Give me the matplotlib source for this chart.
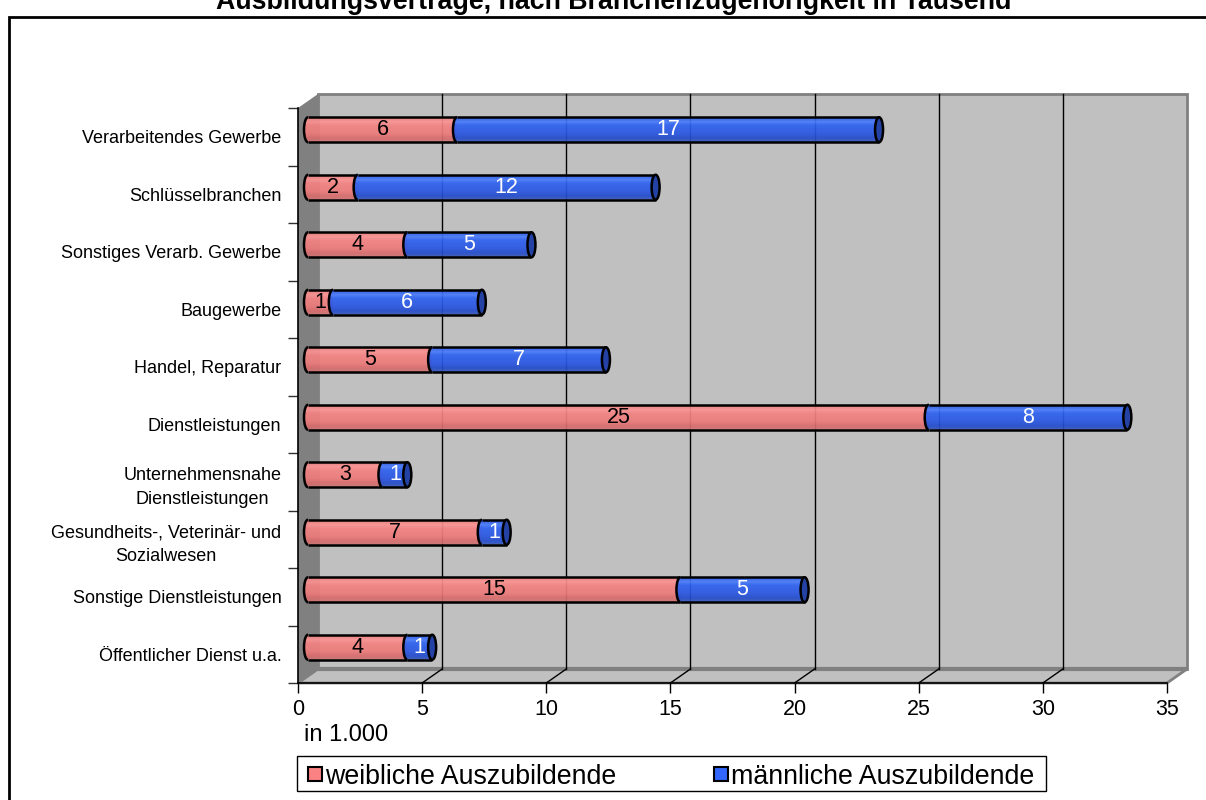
import numpy as np
import matplotlib
matplotlib.use("Agg")
import matplotlib.pyplot as plt
from matplotlib.patches import Polygon, Ellipse, Rectangle, Arc
from matplotlib.path import Path

# ---- data -------------------------------------------------------------
categories = [
    "Verarbeitendes Gewerbe",
    "Schlüsselbranchen",
    "Sonstiges Verarb. Gewerbe",
    "Baugewerbe",
    "Handel, Reparatur",
    "Dienstleistungen",
    "Unternehmensnahe\nDienstleistungen",
    "Gesundheits-, Veterinär- und\nSozialwesen",
    "Sonstige Dienstleistungen",
    "Öffentlicher Dienst u.a.",
]
weiblich = [6, 2, 4, 1, 5, 25, 3, 7, 15, 4]
maennlich = [17, 12, 5, 6, 7, 8, 1, 1, 5, 1]
series_names = ["weibliche Auszubildende", "männliche Auszubildende"]
x_ticks = [0, 5, 10, 15, 20, 25, 30, 35]
title = "Ausbildungsverträge, nach Branchenzugehörigkeit in Tausend"
unit_label = "in 1.000"

# ---- styling ----------------------------------------------------------
plt.rcParams["font.family"] = ["Liberation Sans", "DejaVu Sans"]

W, H = 1206, 800
fig = plt.figure(figsize=(W / 100, H / 100), dpi=100)
fig.patch.set_facecolor("white")

x_max = x_ticks[-1]
n = len(categories)

# axes frame = front plane of the 3-D box
ax_left, ax_right, ax_top, ax_bottom = 298, 1167, 108, 683
ax = fig.add_axes([ax_left / W, (H - ax_bottom) / H,
                   (ax_right - ax_left) / W, (ax_bottom - ax_top) / H])
px_per_unit = (ax_right - ax_left) / x_max
px_per_cat = (ax_bottom - ax_top) / n

# depth of the box in data units
DX = 20 / px_per_unit
DY = 14 / px_per_cat

wall = "#C0C0C0"
wall_edge = "#808080"
y0, y1 = -0.5, n - 0.5

# back wall
ax.add_patch(Rectangle((DX, y0 - DY), x_max, n, facecolor=wall,
                       edgecolor=wall_edge, lw=2, zorder=0.5, clip_on=False))
# side wall
ax.add_patch(Polygon([(0, y0), (DX, y0 - DY), (DX, y1 - DY), (0, y1)],
                     closed=True, facecolor=wall_edge, edgecolor="none",
                     zorder=0.6, clip_on=False))
# floor
ax.add_patch(Polygon([(0, y1), (x_max, y1), (x_max + DX, y1 - DY), (DX, y1 - DY)],
                     closed=True, facecolor=wall, edgecolor=wall_edge, lw=2,
                     zorder=0.7, clip_on=False))
ax.plot([DX, x_max + DX], [y1 - DY, y1 - DY], color=wall_edge, lw=3,
        zorder=0.75, clip_on=False, solid_capstyle="butt")

# gridlines on the back wall and the floor
for v in x_ticks[1:-1]:
    ax.plot([v + DX, v + DX], [y0 - DY, y1 - DY], color="black", lw=1,
            zorder=0.8, clip_on=False)
    ax.plot([v, v + DX], [y1, y1 - DY], color="black", lw=1,
            zorder=0.8, clip_on=False)

# ---- cylinder bars ----------------------------------------------------
def gradient(stops):
    t = np.linspace(0, 1, 40)
    pos = [s[0] for s in stops]
    cols = np.array([s[1] for s in stops], dtype=float) / 255.0
    rgb = np.stack([np.interp(t, pos, cols[:, k]) for k in range(3)], axis=-1)
    return np.repeat(rgb[:, None, :], 2, axis=1)

pink_grad = gradient([(0.0, (234, 124, 124)), (0.18, (252, 148, 148)),
                      (0.32, (244, 132, 132)), (0.65, (238, 124, 124)),
                      (0.85, (216, 108, 108)), (1.0, (206, 118, 118))])
blue_grad = gradient([(0.0, (44, 88, 222)), (0.18, (74, 124, 252)),
                      (0.32, (48, 98, 240)), (0.65, (42, 88, 226)),
                      (0.85, (36, 76, 204)), (1.0, (60, 92, 184))])
cap_color = "#2342A4"
legend_colors = ["#FA8282", "#3366FA"]

bar_h = 25 / px_per_cat
cap_w = 8 / px_per_unit
outline = 1.8


def draw_segment(a, b, yc, grad, z):
    t = np.linspace(np.pi / 2, 3 * np.pi / 2, 30)
    arc_pts = np.column_stack([a + cap_w / 2 * np.cos(t), yc + bar_h / 2 * np.sin(t)])
    verts = np.vstack([arc_pts, [[b, yc - bar_h / 2], [b, yc + bar_h / 2],
                                 [a, yc + bar_h / 2]]])
    codes = [Path.MOVETO] + [Path.LINETO] * (len(verts) - 2) + [Path.CLOSEPOLY]
    shape = Path(verts, codes)
    im = ax.imshow(grad, extent=(a - cap_w / 2, b, yc + bar_h / 2, yc - bar_h / 2),
                   aspect="auto", interpolation="bilinear", origin="upper",
                   zorder=z, alpha=0.93)
    im.set_clip_path(shape, transform=ax.transData)
    ax.plot([a, b], [yc - bar_h / 2, yc - bar_h / 2], color="black", lw=outline,
            zorder=z + 0.1, solid_capstyle="butt")
    ax.plot([a, b], [yc + bar_h / 2, yc + bar_h / 2], color="black", lw=outline,
            zorder=z + 0.1, solid_capstyle="butt")
    ax.add_patch(Arc((a, yc), cap_w, bar_h, theta1=90, theta2=270,
                     color="black", lw=outline, zorder=z + 0.1))


for i in range(n):
    yc = i - DY / 2
    a0 = DX / 2
    a1 = a0 + weiblich[i]
    a2 = a1 + maennlich[i]
    z = 3 + i
    draw_segment(a0, a1, yc, pink_grad, z)
    draw_segment(a1, a2, yc, blue_grad, z + 0.3)
    ax.add_patch(Ellipse((a2, yc), cap_w, bar_h, facecolor=cap_color,
                         edgecolor="black", lw=outline, zorder=z + 0.5))
    ax.text((a0 + a1) / 2, yc, str(weiblich[i]), ha="center", va="center",
            fontsize=15.5, color="black", zorder=z + 0.6)
    ax.text((a1 + a2) / 2, yc, str(maennlich[i]), ha="center", va="center",
            fontsize=15.5, color="white", zorder=z + 0.6)

# ---- axes -------------------------------------------------------------
ax.set_xlim(0, x_max)
ax.set_ylim(y1, y0)
ax.set_facecolor("none")
for side in ("top", "right"):
    ax.spines[side].set_visible(False)
for side in ("left", "bottom"):
    ax.spines[side].set_color("black")
    ax.spines[side].set_linewidth(1.2)
    ax.spines[side].set_zorder(2)

ax.set_xticks(x_ticks)
ax.set_xticklabels([str(v) for v in x_ticks], fontsize=15.5)
ax.tick_params(axis="x", direction="out", length=7.5, width=1, color="black", pad=4)

ax.set_yticks(range(n))
ax.set_yticklabels(categories, fontsize=13)
for lbl in ax.get_yticklabels():
    lbl.set_multialignment("center")
    lbl.set_linespacing(1.55)
ax.tick_params(axis="y", which="major", length=0, pad=12)
ax.set_yticks(np.arange(y0, y1 + 0.01, 1), minor=True)
ax.tick_params(axis="y", which="minor", direction="out", length=7.5, width=1,
               color="#303030")

# ---- texts, legend, frame --------------------------------------------
fig.text(614 / W, 1 - 9 / H, title, ha="center", va="baseline",
         fontsize=19.3, fontweight="bold")
fig.text(304 / W, 1 - 735 / H, unit_label, ha="left", va="center", fontsize=17)

# legend box with two entries
fig.add_artist(Rectangle((297 / W, 1 - 791 / H), (1046 - 297) / W, 35 / H,
                         transform=fig.transFigure, facecolor="white",
                         edgecolor="black", lw=1))
legend_y = 1 - 773.5 / H
for name, col, mx, tx in zip(series_names, legend_colors, (308, 714), (325, 731)):
    fig.add_artist(Rectangle((mx / W, legend_y - 7 / H), 14 / W, 14 / H,
                             transform=fig.transFigure, facecolor=col,
                             edgecolor="black", lw=1.5))
    fig.text(tx / W, legend_y, name, ha="left", va="center_baseline",
             fontsize=19.3)

fig.add_artist(Rectangle((9 / W, -0.5), 2, 1 - 17 / H + 0.5,
                         transform=fig.transFigure, fill=False,
                         edgecolor="black", lw=2))

fig.savefig("out.png", dpi=100)
